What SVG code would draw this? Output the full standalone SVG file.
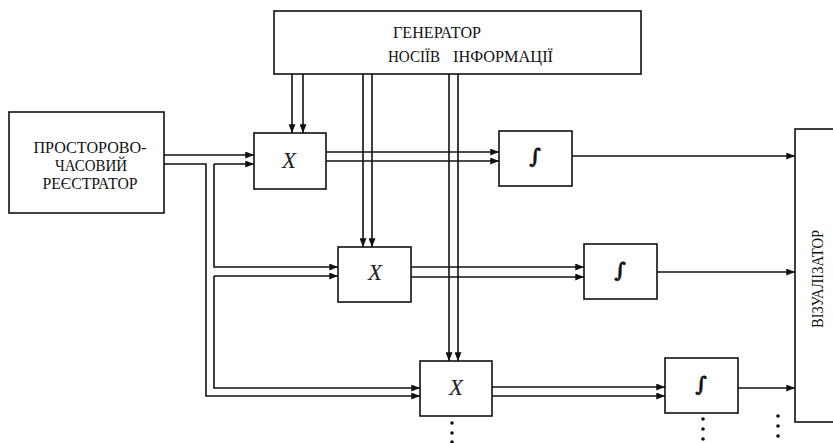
<svg xmlns="http://www.w3.org/2000/svg" width="833" height="443" viewBox="0 0 833 443">
<defs>
<marker id="ah" viewBox="0 0 10 8" refX="10" refY="4" markerWidth="9" markerHeight="7" markerUnits="userSpaceOnUse" orient="auto">
<path d="M0,0 L10,4 L0,8 Z" fill="#111"/>
</marker>
</defs>
<style>
.box{fill:#fff;stroke:#111;stroke-width:1.6}
.ar{fill:none;stroke:#111;stroke-width:1.6;marker-end:url(#ah)}
.lbl{font-family:"Liberation Serif","DejaVu Serif","Times New Roman",serif;font-size:16px;fill:#111}
.x{font-family:"Liberation Serif","DejaVu Serif","Times New Roman",serif;font-size:23px;font-style:italic;fill:#222;text-anchor:middle}
.int{font-family:"DejaVu Serif","Liberation Serif",serif;font-size:20px;font-weight:bold;fill:#111;stroke:#111;stroke-width:0.6;text-anchor:middle}
.dot{fill:#111}
</style>
<g id="connectors">
<path class="ar" d="M292,74 V133"/>
<path class="ar" d="M303,74 V133"/>
<path class="ar" d="M363,74 V247"/>
<path class="ar" d="M372,74 V247"/>
<path class="ar" d="M449,74 V361"/>
<path class="ar" d="M458,74 V361"/>
<path class="ar" d="M164,155 H254"/>
<path class="ar" d="M164,164 H206 V396 H420"/>
<path class="ar" d="M214,164 H254"/>
<path class="ar" d="M214,164 V267 H338"/>
<path class="ar" d="M214,276 H338"/>
<path class="ar" d="M214,276 V388 H420"/>
<path class="ar" d="M326,152 H499"/>
<path class="ar" d="M326,161 H499"/>
<path class="ar" d="M411,267 H584"/>
<path class="ar" d="M411,277 H584"/>
<path class="ar" d="M492,387 H665"/>
<path class="ar" d="M492,396 H665"/>
<path class="ar" d="M572,156 H795"/>
<path class="ar" d="M657,272 H795"/>
<path class="ar" d="M738,388 H795"/>
</g>
<g id="generator">
<rect class="box" x="274" y="11" width="367" height="63"/>
<text class="lbl" x="393" y="38" textLength="88" lengthAdjust="spacingAndGlyphs">ГЕНЕРАТОР</text>
<text class="lbl" x="388" y="62" textLength="52" lengthAdjust="spacingAndGlyphs">НОСІЇВ</text>
<text class="lbl" x="453" y="62" textLength="100" lengthAdjust="spacingAndGlyphs">ІНФОРМАЦІЇ</text>
</g>
<g id="registrator">
<rect class="box" x="9" y="112" width="155" height="101"/>
<text class="lbl" x="90" y="153" text-anchor="middle" textLength="113" lengthAdjust="spacingAndGlyphs">ПРОСТОРОВО-</text>
<text class="lbl" x="91" y="171" text-anchor="middle" textLength="72" lengthAdjust="spacingAndGlyphs">ЧАСОВИЙ</text>
<text class="lbl" x="90" y="189" text-anchor="middle" textLength="95" lengthAdjust="spacingAndGlyphs">РЕЄСТРАТОР</text>
</g>
<g id="mult1">
<rect class="box" x="254" y="133" width="72" height="56"/>
<text class="x" x="289" y="168">X</text>
</g>
<g id="mult2">
<rect class="box" x="338" y="247" width="73" height="55"/>
<text class="x" x="375" y="280">X</text>
</g>
<g id="mult3">
<rect class="box" x="420" y="361" width="72" height="55"/>
<text class="x" x="456" y="395">X</text>
</g>
<g id="int1">
<rect class="box" x="499" y="131" width="73" height="55"/>
<text class="int" x="535" y="163">∫</text>
</g>
<g id="int2">
<rect class="box" x="584" y="244" width="73" height="55"/>
<text class="int" x="620" y="277">∫</text>
</g>
<g id="int3">
<rect class="box" x="665" y="358" width="73" height="55"/>
<text class="int" x="701" y="391">∫</text>
</g>
<g id="visualizer">
<rect class="box" x="795" y="129" width="50" height="293"/>
<text class="lbl" transform="translate(823,279) rotate(-90)" text-anchor="middle" textLength="98" lengthAdjust="spacingAndGlyphs">ВІЗУАЛІЗАТОР</text>
</g>
<g id="dots">
<circle class="dot" cx="452" cy="423" r="1.8"/>
<circle class="dot" cx="452" cy="433" r="1.8"/>
<circle class="dot" cx="452" cy="442" r="1.8"/>
<circle class="dot" cx="703" cy="419" r="1.8"/>
<circle class="dot" cx="703" cy="429" r="1.8"/>
<circle class="dot" cx="703" cy="439" r="1.8"/>
<circle class="dot" cx="778" cy="416" r="1.8"/>
<circle class="dot" cx="778" cy="426" r="1.8"/>
<circle class="dot" cx="778" cy="436" r="1.8"/>
</g>
</svg>
